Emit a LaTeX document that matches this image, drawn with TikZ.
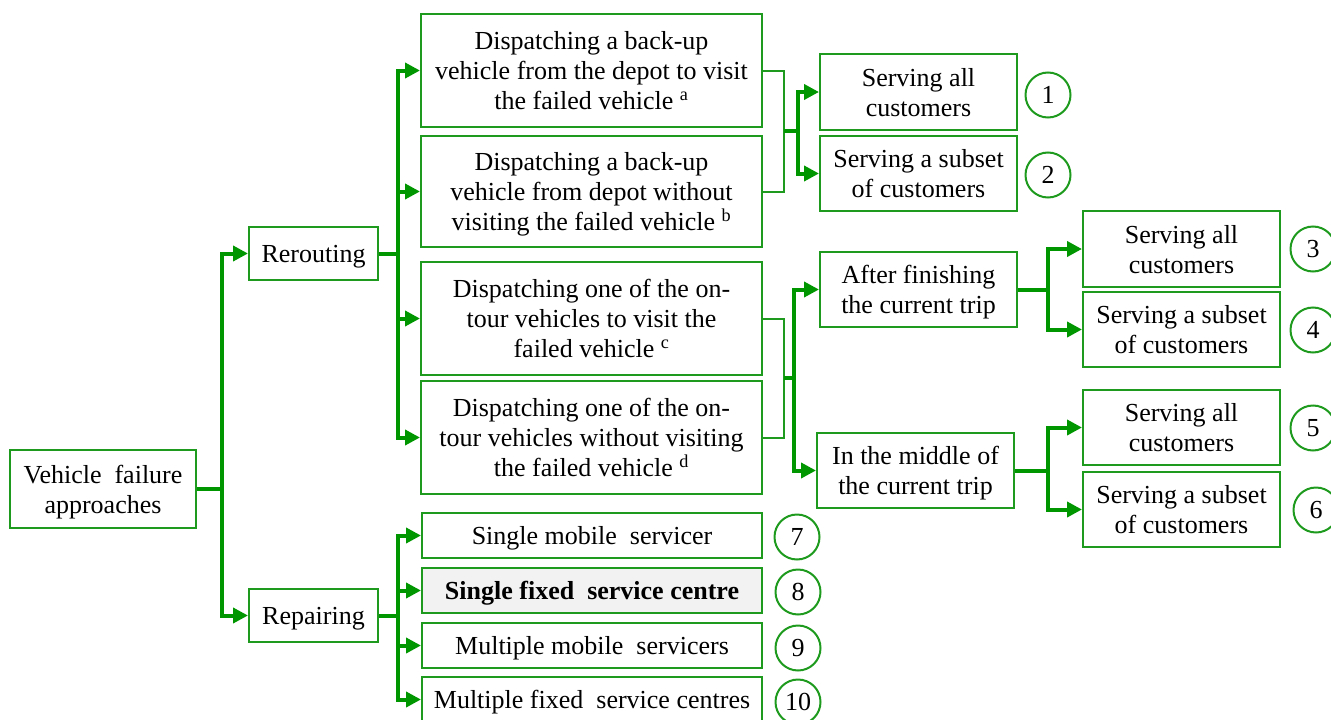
\documentclass[tikz,border=0pt]{standalone}
\usepackage{fontspec}
\setmainfont{Liberation Serif}
\usetikzlibrary{arrows.meta}
\definecolor{lg}{RGB}{0,150,0}
\definecolor{bg}{RGB}{30,155,30}
\newcommand{\tx}[1]{\raisebox{-3pt}[\height][\depth]{\begin{tabular}{@{}c@{}}#1\end{tabular}}}
\tikzset{
  box/.style={draw=bg, line width=2pt, fill=white, inner sep=0pt,
    font=\fontsize{26}{30}\selectfont},
  num/.style={draw=bg, line width=2pt, circle, minimum size=45pt, inner sep=0pt,
    font=\fontsize{26}{30}\selectfont},
  main/.style={draw=lg, line width=4pt},
  arr/.style={main, -{Triangle[length=15pt,width=15pt]}},
  thinl/.style={draw=bg, line width=2pt}
}
\begin{document}
\begin{tikzpicture}[x=1pt,y=-1pt]
\useasboundingbox (0,0) rectangle (1331,720);
% nodes
\node[box, minimum width=186pt, minimum height=78pt] (vfa) at (103,489) {\tx{Vehicle \ failure\\approaches}};
\node[box, minimum width=129pt, minimum height=53pt] (rer) at (313.5,253.5) {\tx{Rerouting}};
\node[box, minimum width=129pt, minimum height=53pt] (rep) at (313.5,615.5) {\tx{Repairing}};
\node[box, minimum width=341pt, minimum height=113pt] (d1) at (591.5,70.5) {\tx{Dispatching a back-up\\vehicle from the depot to visit\\the failed vehicle \textsuperscript{a}}};
\node[box, minimum width=341pt, minimum height=111pt] (d2) at (591.5,191.5) {\tx{Dispatching a back-up\\vehicle from depot without\\visiting the failed vehicle \textsuperscript{b}}};
\node[box, minimum width=341pt, minimum height=113pt] (d3) at (591.5,318.5) {\tx{Dispatching one of the on-\\tour vehicles to visit the\\failed vehicle \textsuperscript{c}}};
\node[box, minimum width=341pt, minimum height=113pt] (d4) at (591.5,437.5) {\tx{Dispatching one of the on-\\tour vehicles without visiting\\the failed vehicle \textsuperscript{d}}};
\node[box, minimum width=197pt, minimum height=76pt] (r1) at (918.5,92) {\tx{Serving all\\customers}};
\node[box, minimum width=197pt, minimum height=75pt] (r2) at (918.5,173.5) {\tx{Serving a subset\\of customers}};
\node[box, minimum width=197pt, minimum height=75pt] (af) at (918.5,289.5) {\tx{After finishing\\the current trip}};
\node[box, minimum width=197pt, minimum height=75pt] (mid) at (915.5,470.5) {\tx{In the middle of\\the current trip}};
\node[box, minimum width=197pt, minimum height=76pt] (b3) at (1181.5,249) {\tx{Serving all\\customers}};
\node[box, minimum width=197pt, minimum height=75pt] (b4) at (1181.5,329.5) {\tx{Serving a subset\\of customers}};
\node[box, minimum width=197pt, minimum height=75pt] (b5) at (1181.5,427.5) {\tx{Serving all\\customers}};
\node[box, minimum width=197pt, minimum height=75pt] (b6) at (1181.5,509.5) {\tx{Serving a subset\\of customers}};
\node[box, minimum width=340pt, minimum height=45pt] (s7) at (592,535.5) {\tx{Single mobile \ servicer}};
\node[box, minimum width=340pt, minimum height=45pt, fill=black!5] (s8) at (592,590.5) {\tx{\bfseries Single fixed \ service centre}};
\node[box, minimum width=340pt, minimum height=45pt] (s9) at (592,645.5) {\tx{Multiple mobile \ servicers}};
\node[box, minimum width=340pt, minimum height=45pt] (s10) at (592,699.5) {\tx{Multiple fixed \ service centres}};
% numbers
\node[num] (c1) at (1048,95) {1};
\node[num] (c2) at (1048,175) {2};
\node[num] (c3) at (1313,249) {3};
\node[num] (c4) at (1313,330) {4};
\node[num] (c5) at (1313,428) {5};
\node[num] (c6) at (1316,510) {6};
\node[num] (c7) at (797,537) {7};
\node[num] (c8) at (798,592) {8};
\node[num] (c9) at (798,648) {9};
\node[num] (c10) at (798,702) {10};
% junctions
\coordinate (j0) at (222,489);
\coordinate (j1) at (398,253.5);
\coordinate (j2) at (398,615.5);
\coordinate (k1) at (784,131);
\coordinate (k1b) at (798,131);
\coordinate (k2) at (784,378);
\coordinate (k2b) at (794,378);
\coordinate (j3) at (1048,289.5);
\coordinate (j4) at (1048,470.5);
% connectors
\draw[main] (vfa.east) -- (j0);
\draw[arr] (j0) |- (rer.west);
\draw[arr] (j0) |- (rep.west);
\draw[main] (rer.east) -- (j1);
\draw[arr] (j1) |- (d1.west);
\draw[arr] (j1) |- (d2.west);
\draw[arr] (j1) |- (d3.west);
\draw[arr] (j1) |- (d4.west);
\draw[main] (rep.east) -- (j2);
\draw[arr] (j2) |- (s7.west);
\draw[arr] (j2) |- (s8.west);
\draw[arr] (j2) |- (s9.west);
\draw[arr] (j2) |- (s10.west);
\draw[thinl] (d1.east) -| (k1) |- (d2.east);
\draw[main] (k1) -- (k1b);
\draw[arr] (k1b) |- (r1.west);
\draw[arr] (k1b) |- (r2.west);
\draw[thinl] (d3.east) -| (k2) |- (d4.east);
\draw[main] (k2) -- (k2b);
\draw[arr] (k2b) |- (af.west);
\draw[arr] (k2b) |- (mid.west);
\draw[main] (af.east) -- (j3);
\draw[arr] (j3) |- (b3.west);
\draw[arr] (j3) |- (b4.west);
\draw[main] (mid.east) -- (j4);
\draw[arr] (j4) |- (b5.west);
\draw[arr] (j4) |- (b6.west);
\end{tikzpicture}
\end{document}
